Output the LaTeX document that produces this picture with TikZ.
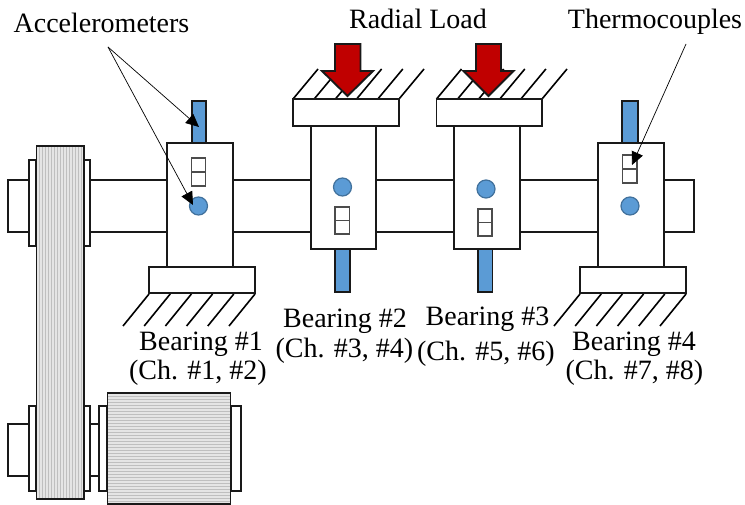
\documentclass[tikz,border=0pt]{standalone}
\usepackage{fontspec}
\setmainfont{Liberation Serif}
\usetikzlibrary{arrows.meta,patterns}
\definecolor{sensorblue}{HTML}{5B9BD5}
\definecolor{circleedge}{HTML}{41719C}
\definecolor{loadred}{HTML}{C00000}
\begin{document}
\begin{tikzpicture}[x=1pt, y=-1pt,
    part/.style={draw=black!90, line width=1.9pt, fill=white},
    sensor/.style={draw=black!90, line width=1.9pt, fill=sensorblue},
    accel/.style={draw=circleedge, line width=1.2pt, fill=sensorblue},
    thermo/.style={draw=black!70, line width=1.2pt, fill=white},
    load/.style={draw=black!90, line width=1.9pt, fill=loadred},
    hatch/.style={line width=1.6pt},
    pointer/.style={draw=black, line width=0.7pt, -{Triangle[length=13pt,width=12pt]}},
    caption/.style={font=\fontsize{28}{30}\selectfont, anchor=base, inner sep=0pt}]
    \useasboundingbox (0,0) rectangle (745,505);

    % shaft
    \draw[part] (8,180) rectangle (694,232);
    % belt side
    \draw[part] (29,160) rectangle (36,246);
    \draw[part] (84,160) rectangle (90,246);
    \draw[part] (8,424) rectangle (29,476);
    \draw[part] (90,424) rectangle (99,476);
    \draw[part] (29,406) rectangle (36,491);
    \draw[part] (84,406) rectangle (90,491);
    \draw[part, preaction={fill=gray!20}, pattern=vertical lines, pattern color=gray!50] (36.5,146) rectangle (84,499);
    % motor
    \draw[part] (99,406) rectangle (107,491);
    \draw[part] (231,406) rectangle (241,491);
    \draw[part, preaction={fill=gray!20}, pattern=horizontal lines, pattern color=gray!50] (107.5,393) rectangle (230.5,504);

    % ground hatching
    \foreach \xa in {149,170.2,191.4,212.6,233.8,255,580,601.2,622.4,643.6,664.8,686}
        \draw[hatch] (\xa,294) -- ++(-26,32);
    \foreach \xa in {293,314.2,335.4,356.6,377.8,399,436.5,457.6,478.7,499.8,520.9,542}
        \draw[hatch] (\xa,99) -- ++(25,-30);

    % bearing 1
    \draw[sensor] (192,101) rectangle (206,143);
    \draw[part] (167,143) rectangle (232.8,267);
    \draw[part] (149,267) rectangle (255,293);
    \draw[thermo] (191.5,158) rectangle (205.5,186);
    \draw[thermo] (191.5,172) -- (205.5,172);
    \draw[accel] (198.5,206) circle (9);

    % bearing 2
    \draw[sensor] (335,249) rectangle (350,292);
    \draw[part] (311,126) rectangle (376,249);
    \draw[part] (293,99) rectangle (399,126);
    \draw[thermo] (335,207) rectangle (349.5,234);
    \draw[thermo] (335,220.5) -- (349.5,220.5);
    \draw[accel] (342.5,187) circle (9);

    % bearing 3
    \draw[sensor] (478,249) rectangle (492.5,292);
    \draw[part] (454,126) rectangle (520,249);
    \draw[part] (436.5,99) rectangle (542,126);
    \draw[thermo] (478,209) rectangle (492,236);
    \draw[thermo] (478,222.5) -- (492,222.5);
    \draw[accel] (486,189) circle (9);

    % bearing 4
    \draw[sensor] (622,101) rectangle (638,143);
    \draw[part] (598,143) rectangle (664,267);
    \draw[part] (580,267) rectangle (686,293);
    \draw[thermo] (622.5,155) rectangle (637,183);
    \draw[thermo] (622.5,169) -- (637,169);
    \draw[accel] (630,206) circle (9);

    % radial load
    \draw[load] (335,44) -- (360.5,44) -- (360.5,71) -- (373,71) -- (347.5,96) -- (322,71) -- (335,71) -- cycle;
    \draw[load] (476,44) -- (501,44) -- (501,71) -- (513.5,71) -- (488.5,96) -- (463.5,71) -- (476,71) -- cycle;

    % labels
    \node[caption] (acclabel) at (101.5,33) {Accelerometers};
    \node[caption] (loadlabel) at (418,29) {Radial Load};
    \node[caption] (thermolabel) at (655,29) {Thermocouples};
    \node[caption] (bearingone) at (201,351) {Bearing \#1};
    \node[caption] (channelone) at (198,380) {(Ch. \#1, \#2)};
    \node[caption] (bearingtwo) at (345,327) {Bearing \#2};
    \node[caption] (channeltwo) at (344.5,358) {(Ch. \#3, \#4)};
    \node[caption] (bearingthree) at (487.5,326) {Bearing \#3};
    \node[caption] (channelthree) at (486,360) {(Ch. \#5, \#6)};
    \node[caption] (bearingfour) at (634,351) {Bearing \#4};
    \node[caption] (channelfour) at (634.5,379) {(Ch. \#7, \#8)};

    % pointers
    \coordinate (accapex) at (108,47);
    \coordinate (accupper) at (199,127);
    \coordinate (acclower) at (193,205);
    \coordinate (thermotail) at (686,44);
    \coordinate (thermotip) at (632,165);
    \draw[pointer] (accapex) -- (accupper);
    \draw[pointer] (accapex) -- (acclower);
    \draw[pointer] (thermotail) -- (thermotip);
\end{tikzpicture}
\end{document}
